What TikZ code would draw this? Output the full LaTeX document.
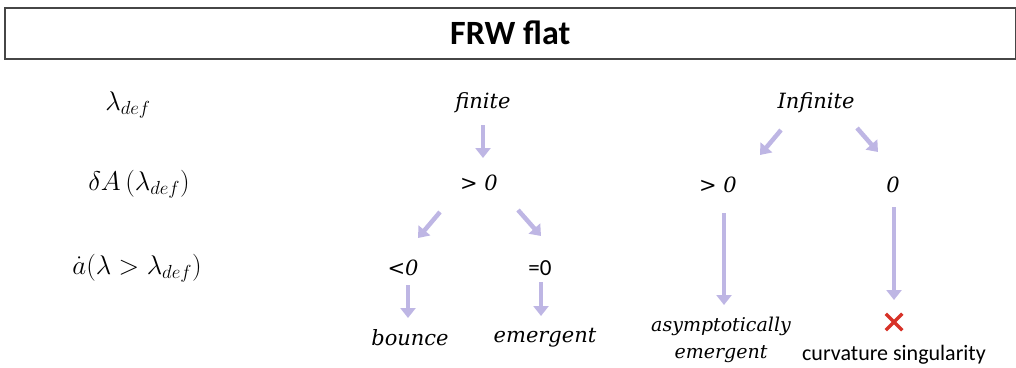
\RequirePackage{fix-cm}
\documentclass[tikz,border=0pt]{standalone}
\usepackage{fontspec}
\newfontfamily\calibri{Carlito}
\newfontfamily\serifit{DejaVu Serif}
\usetikzlibrary{arrows.meta,calc,shapes.misc}
\definecolor{arrcol}{RGB}{190,182,228}
\definecolor{boxedge}{RGB}{70,70,70}
\definecolor{xred}{RGB}{215,50,40}
\tikzset{
  arr/.style={draw=arrcol, line width=4.5pt, -{Triangle[length=10pt,width=15pt]}},
  itl/.style={font=\fontsize{21}{24}\selectfont\serifit\itshape, inner sep=0pt},
  mth/.style={font=\fontsize{27}{29}\selectfont, inner sep=0pt},
  sans/.style={font=\fontsize{23}{25}\selectfont\calibri, inner sep=0pt},
}
\begin{document}
\begin{tikzpicture}[x=1pt,y=-1pt]
\useasboundingbox (0,0) rectangle (1016,367);
\node[draw=boxedge, line width=1.5pt, minimum width=1011pt, minimum height=51pt, inner sep=0pt, anchor=north west,
  font=\fontsize{34}{37}\selectfont\calibri\bfseries] (title) at (4,7) {FRW flat};
% row labels
\node[mth] (r1) at (128,105) {$\lambda_{def}$};
\node[mth] (r2) at (139,184) {$\delta A\left(\lambda_{def}\right)$};
\node[mth] (r3) at (137,268) {$\dot{a}(\lambda>\lambda_{def})$};
% finite branch
\node[itl] (F) at (483,103) {finite};
\node[itl] (G) at (479,183) {> 0};
\node[itl] (L) at (403,268) {<0};
\node[sans] (E) at (540,268) {=0};
\node[itl] (B) at (410,338) {bounce};
\node[itl] (M) at (545,338) {emergent};
% infinite branch
\node[itl] (I) at (816,103) {Infinite};
\node[itl] (G2) at (718,185) {> 0};
\node[itl] (Z) at (893,185) {0};
\node[itl, align=center, font=\fontsize{19}{27}\selectfont\serifit\itshape] (AE) at (721,340) {asymptotically\\emergent};
\node[cross out, draw=xred, line width=3.5pt, minimum size=13pt, inner sep=0pt] (X) at (894,322) {};
\node[sans, font=\fontsize{22}{24}\selectfont\calibri] (CS) at (894,355) {curvature singularity};
% arrows
\draw[arr] ($(F)+(0,22)$) -- ($(G)+(4,-25)$);
\draw[arr] ($(G)+(-39,29)$) -- ($(L)+(15,-30)$);
\draw[arr] ($(G)+(39,27)$) -- ($(E)+(1,-32)$);
\draw[arr] ($(L)+(5,17)$) -- ($(B)+(-2,-20)$);
\draw[arr] ($(E)+(1,14)$) -- ($(M)+(-4,-22)$);
\draw[arr] ($(I)+(-35,27)$) -- ($(G2)+(42,-30)$);
\draw[arr] ($(I)+(41,25)$) -- ($(Z)+(-15,-33)$);
\draw[arr] ($(G2)+(6,28)$) -- ($(AE)+(3,-35)$);
\draw[arr] ($(Z)+(1,22)$) -- ($(X)+(0,-22)$);
\end{tikzpicture}
\end{document}
